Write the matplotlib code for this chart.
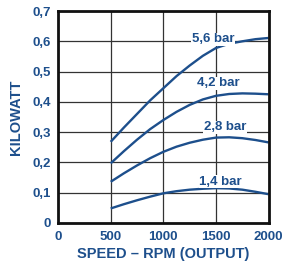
import matplotlib
matplotlib.use("Agg")
import matplotlib.pyplot as plt

plt.rcParams['font.family'] = ['Liberation Sans', 'DejaVu Sans']

blue = '#1d4f8c'

rpm = [500, 625, 750, 875, 1000, 1125, 1250, 1375, 1500, 1625, 1750, 1875, 2000]
kw_56 = [0.268, 0.315, 0.36, 0.405, 0.445, 0.485, 0.52, 0.552, 0.578, 0.592, 0.60, 0.607, 0.611]
kw_42 = [0.197, 0.237, 0.275, 0.31, 0.34, 0.367, 0.39, 0.408, 0.42, 0.426, 0.428, 0.427, 0.425]
kw_28 = [0.136, 0.164, 0.19, 0.214, 0.235, 0.252, 0.265, 0.275, 0.282, 0.283, 0.28, 0.274, 0.266]
kw_14 = [0.048, 0.062, 0.075, 0.087, 0.098, 0.105, 0.11, 0.113, 0.115, 0.114, 0.11, 0.103, 0.095]

labels = ['5,6 bar', '4,2 bar', '2,8 bar', '1,4 bar']
label_x = [1471, 1518, 1587, 1545]
label_y = [0.606, 0.461, 0.316, 0.136]

xticks = [0, 500, 1000, 1500, 2000]
yticks = [0, 0.1, 0.2, 0.3, 0.4, 0.5, 0.6, 0.7]
ytick_labels = ['0', '0,1', '0,2', '0,3', '0,4', '0,5', '0,6', '0,7']

fig = plt.figure(figsize=(2.82, 2.66), dpi=100)
ax = fig.add_axes([0.2057, 0.1617, 0.7471, 0.7969])

for ys in [kw_56, kw_42, kw_28, kw_14]:
    ax.plot(rpm, ys, color=blue, lw=1.7, solid_capstyle='butt')

for txt, x, y in zip(labels, label_x, label_y):
    ax.text(x, y, txt, color=blue, fontsize=9.5, fontweight='bold',
            ha='center', va='center',
            bbox=dict(facecolor='white', edgecolor='none', pad=0.5))

ax.set_xlim(0, 2000)
ax.set_ylim(0, 0.7)
ax.set_xticks(xticks)
ax.set_xticklabels([str(v) for v in xticks])
ax.set_yticks(yticks)
ax.set_yticklabels(ytick_labels)
ax.grid(True, color='#333333', lw=0.9)
ax.set_axisbelow(True)
ax.tick_params(length=0, labelsize=9.5, labelcolor=blue)
ax.tick_params(axis='y', pad=5)
ax.tick_params(axis='x', pad=6)
for lab in ax.get_xticklabels() + ax.get_yticklabels():
    lab.set_fontweight('bold')
for sp in ax.spines.values():
    sp.set_linewidth(2)
    sp.set_color('#111111')

ax.set_xlabel('SPEED \u2013 RPM (OUTPUT)', color=blue, fontsize=10.5,
              fontweight='bold', labelpad=3)
ax.set_ylabel('KILOWATT', color=blue, fontsize=10.5, fontweight='bold',
              labelpad=7)

fig.savefig('out.png', dpi=100)
